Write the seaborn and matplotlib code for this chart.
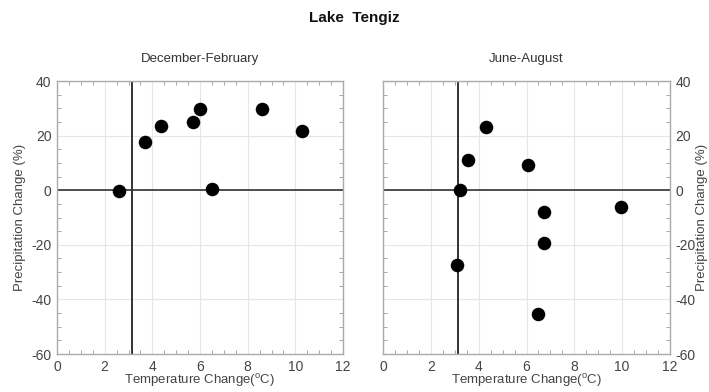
import matplotlib
matplotlib.use("Agg")
import matplotlib.pyplot as plt
from matplotlib.ticker import MultipleLocator
import seaborn as sns
import pandas as pd

# Data
djf_temp = [2.6, 3.7, 4.35, 5.7, 6.0, 6.5, 8.6, 10.3]
djf_prec = [-0.3, 17.7, 23.7, 25.0, 29.6, 0.6, 29.8, 21.8]
jja_temp = [4.3, 3.55, 6.05, 3.2, 6.75, 9.95, 6.75, 3.08, 6.5]
jja_prec = [23.1, 10.9, 9.2, 0.25, -8.0, -6.3, -19.3, -27.4, -45.4]
panel_titles = ["December-February", "June-August"]
main_title = "Lake  Tengiz"
x_label = r"Temperature Change($^{\rm o}$C)"
y_label = "Precipitation Change (%)"
ref_temp = 3.15
ref_prec = 0

sns.set_theme(style="white")
plt.rcParams['font.family'] = ['Liberation Sans', 'DejaVu Sans']
plt.rcParams['axes.unicode_minus'] = False
plt.rcParams['mathtext.fontset'] = 'custom'
plt.rcParams['mathtext.rm'] = 'Liberation Sans'

fig = plt.figure(figsize=(7.09, 3.92), dpi=100)
ax1 = fig.add_axes([0.0804, 0.0969, 0.4034, 0.6964])
ax2 = fig.add_axes([0.5402, 0.0969, 0.4048, 0.6964])

dfs = [pd.DataFrame({"t": djf_temp, "p": djf_prec}),
       pd.DataFrame({"t": jja_temp, "p": jja_prec})]

txtc = "#444444"
for i, (ax, df, title) in enumerate(zip([ax1, ax2], dfs, panel_titles)):
    ax.grid(True, which="major", color="#e6e6e6", linewidth=0.8)
    ax.set_axisbelow(True)
    ax.axvline(ref_temp, color="#111111", linewidth=1.2, zorder=2)
    ax.axhline(ref_prec, color="#333333", linewidth=1.2, zorder=2)
    sns.scatterplot(data=df, x="t", y="p", ax=ax, color="black", s=95,
                    edgecolor="black", linewidth=0, zorder=3, legend=False)
    ax.set_xlim(0, 12)
    ax.set_ylim(-60, 40)
    ax.xaxis.set_major_locator(MultipleLocator(2))
    ax.xaxis.set_minor_locator(MultipleLocator(0.5))
    ax.yaxis.set_major_locator(MultipleLocator(20))
    ax.yaxis.set_minor_locator(MultipleLocator(5))
    ax.tick_params(which="both", direction="in", top=True, bottom=True,
                   left=True, right=True, colors="#999999",
                   labelcolor=txtc, labelsize=10)
    ax.tick_params(which="major", length=0, pad=4)
    ax.tick_params(which="minor", length=3, width=0.6)
    for s in ax.spines.values():
        s.set_visible(True)
        s.set_color("#aaaaaa")
        s.set_linewidth(1.0)
    ax.set_xlabel(x_label, fontsize=9.5, color=txtc, labelpad=-1)
    ax.set_title(title, fontsize=9.5, color="#333333", pad=14)
    if i == 1:
        ax.yaxis.tick_right()
        ax.yaxis.set_label_position("right")
        ax.tick_params(which="both", left=True, right=True, labelleft=False,
                       labelright=True)
        ax.set_ylabel(y_label, fontsize=9.5, color=txtc, labelpad=0)
    else:
        ax.set_ylabel(y_label, fontsize=9.5, color=txtc, labelpad=4)

fig.text(0.5, 0.955, main_title, ha="center", va="center", fontsize=11,
         fontweight="bold", color="#111111")

fig.savefig("out.png", dpi=100)
